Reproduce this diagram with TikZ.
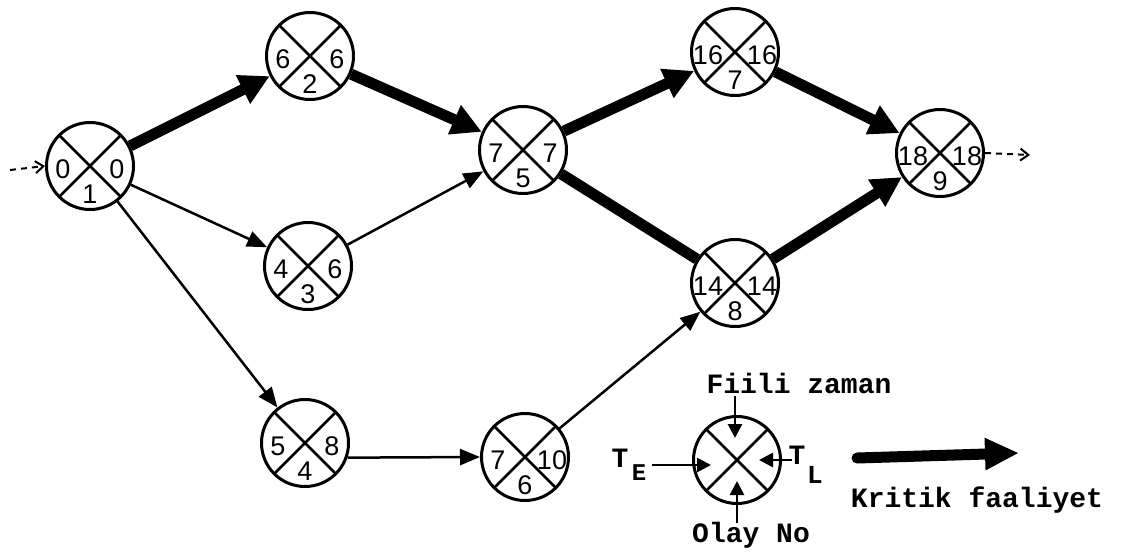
\documentclass[tikz,border=0pt]{standalone}
\usepackage{fontspec}
\setmainfont{Liberation Sans}
\newfontfamily\typew{Liberation Mono}
\usetikzlibrary{arrows.meta,calc}
\begin{document}
\begin{tikzpicture}[x=1pt,y=-1pt,
  ev/.style={circle,draw,line width=3pt,minimum size=87pt,inner sep=0pt,
    path picture={\draw[line width=2.6pt]
      (path picture bounding box.north west) -- (path picture bounding box.south east)
      (path picture bounding box.north east) -- (path picture bounding box.south west);}},
  num/.style={inner sep=0pt,font=\fontsize{27}{29}\selectfont},
  crit/.style={line width=11pt,-{Triangle[length=30pt,width=30pt]}},
  critline/.style={line width=11pt},
  act/.style={line width=2.5pt,-{Triangle[length=20pt,width=16pt]}},
  pointer/.style={line width=2.8pt,-{Triangle[length=14pt,width=14pt]}},
  loose/.style={line width=2pt,dashed,dash pattern=on 6pt off 5pt,-{Straight Barb[length=8pt,width=12pt]}},
  legtxt/.style={inner sep=0pt,font=\typew\bfseries\fontsize{28}{30}\selectfont},
]
\useasboundingbox (0,0) rectangle (1126,555);

% events: name / x / y / earliest / latest / event number
\foreach \i/\px/\py/\a/\b/\c in {
  1/90/166/0/0/1, 2/310/56/6/6/2, 3/308/266/4/6/3, 4/305/443/5/8/4,
  5/523/150/7/7/5, 6/525/457/7/10/6, 7/735/52/16/16/7, 8/735/283/14/14/8,
  9/940/153/18/18/9} {
  \node[ev] (n\i) at (\px,\py) {};
  \node[num] (n\i-l) at ($(n\i)+(-27,3)$) {\a};
  \node[num] (n\i-r) at ($(n\i)+(27,3)$) {\b};
  \node[num] (n\i-b) at ($(n\i)+(0,28)$) {\c};
}

% critical activities
\draw[crit] (n1) -- (n2);
\draw[crit] (n2) -- (n5);
\draw[crit] (n5) -- (n7);
\draw[critline] (n5) -- (n8);
\draw[crit] (n7) -- (n9);
\draw[crit] (n8) -- (n9);

% other activities
\draw[act] (n1) -- (n3);
\draw[act] (n1) -- (n4);
\draw[act] (n3) -- (n5);
\draw[act] (n4.-19) -- (n6.west);
\draw[act] (n6) -- (n8);

% open ends of the network
\coordinate (in1) at (10,170);
\coordinate (out9) at (1030,155);
\draw[loose] (in1) -- (n1.west);
\draw[loose] (n9.east) -- (out9);

% legend event
\node[ev] (lg) at (737,460) {};
\node[legtxt] (fz) at (799,383) {Fiili zaman};
\node[legtxt,font=\typew\bfseries\fontsize{28}{30}\selectfont] (te) at (620,458) {T};
\node[legtxt,font=\typew\bfseries\fontsize{24}{26}\selectfont] (tes) at (639,473) {E};
\node[legtxt,font=\typew\bfseries\fontsize{28}{30}\selectfont] (tl) at (797,455) {T};
\node[legtxt,font=\typew\bfseries\fontsize{26}{28}\selectfont] (tls) at (815,475) {L};
\node[legtxt] (on) at (751,535) {Olay No};

\coordinate (p1a) at (735,396);  \coordinate (p1b) at (735,438);
\coordinate (p2a) at (652,465);  \coordinate (p2b) at (711,465);
\coordinate (p3a) at (792,460);  \coordinate (p3b) at (759,460);
\coordinate (p4a) at (737,523);  \coordinate (p4b) at (737,481);
\draw[pointer] (p1a) -- (p1b);
\draw[pointer] (p2a) -- (p2b);
\draw[pointer] (p3a) -- (p3b);
\draw[pointer] (p4a) -- (p4b);

% legend for critical activity
\coordinate (ka) at (857,458);
\coordinate (kb) at (1019,453);
\draw[line width=11pt,line cap=round,-{Triangle[length=34pt,width=30pt]}] (ka) -- (kb);
\node[legtxt] (kf) at (977,500) {Kritik faaliyet};
\end{tikzpicture}
\end{document}
